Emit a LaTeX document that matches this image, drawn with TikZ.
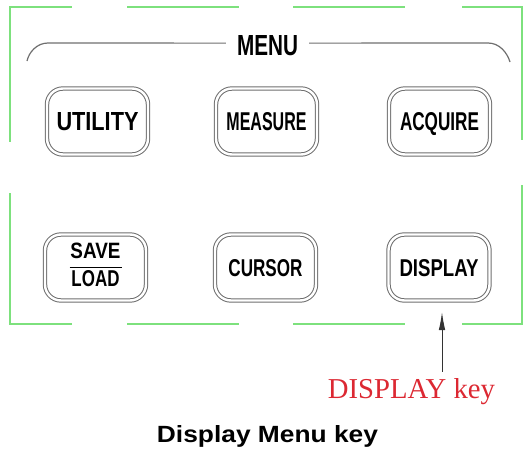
\documentclass[tikz,border=0pt]{standalone}
\usepackage{fontspec}
\setmainfont{Liberation Sans}
\newfontfamily\serifred{Liberation Serif}
\usetikzlibrary{arrows.meta}
\definecolor{framegreen}{RGB}{125,225,125}
\definecolor{keyred}{RGB}{220,40,50}
\definecolor{btngray}{RGB}{110,110,110}
\begin{document}
\begin{tikzpicture}[x=1pt,y=-1pt,
  btn/.style={draw=btngray, line width=1pt, double=white, double distance=2.4pt,
    rounded corners=16pt, minimum width=101pt, minimum height=66pt, inner sep=0pt,
    font=\bfseries},
  onel/.style={text height=17pt, text depth=0pt},
  greenframe/.style={draw=framegreen, line width=1.2pt},
  arcline/.style={draw=btngray, line width=1.2pt},
  keyarrow/.style={-{Latex[length=18pt,width=6.5pt]}, draw=black!80, line width=1pt},
]
\useasboundingbox (0,0) rectangle (525,455);

% green frame (dashed look)
\draw[greenframe] (72,7) -- (10,7) -- (10,142);
\draw[greenframe] (10,193) -- (10,324) -- (72,324);
\draw[greenframe] (127,7) -- (239,7) (293,7) -- (405,7);
\draw[greenframe] (127,324) -- (239,324) (293,324) -- (405,324);
\draw[greenframe] (462,7) -- (522,7) -- (522,140);
\draw[greenframe] (522,185) -- (522,324) -- (462,324);

% MENU heading
\node[anchor=base, inner sep=0pt, inner xsep=11pt, font=\bfseries] (menu) at (267.5,55)
  {\resizebox{61pt}{20pt}{MENU}};
\draw[arcline] (27,61) .. controls (29,52) and (37,43) .. (48,43) -- ([yshift=2pt]menu.west);
\draw[arcline] ([yshift=2pt]menu.east) -- (488,43) .. controls (499,43) and (507,52) .. (510,62);

% buttons
\node[btn,onel] (utility) at (97.5,121.5) {\resizebox{82pt}{18pt}{UTILITY}};
\node[btn,onel] (measure) at (266.5,121.5) {\resizebox{80pt}{18pt}{MEASURE}};
\node[btn,onel] (acquire) at (439.5,121.5) {\resizebox{79pt}{18pt}{ACQUIRE}};
\node[btn] (saveload) at (95.5,267.5) {\vbox{%
    \hbox to 52pt{\hss\resizebox{50pt}{15.5pt}{SAVE}\hss}%
    \kern8.5pt\hrule height 1.5pt\kern2.5pt
    \hbox to 52pt{\hss\resizebox{48pt}{16pt}{LOAD}\hss}%
    \kern5pt}};
\node[btn,onel] (cursor) at (265.5,267.5) {\resizebox{74pt}{17pt}{CURSOR}};
\node[btn,onel] (display) at (439,267.5) {\resizebox{79pt}{17pt}{DISPLAY}};

% key label and arrow
\node[anchor=base, inner sep=0pt, text=keyred, font=\serifred] (keylbl) at (411.5,398)
  {\resizebox{167pt}{20pt}{DISPLAY key}};
\coordinate (tip) at (442,312);
\draw[keyarrow, shorten <=6pt] (tip |- keylbl.north) -- (tip);

% caption
\node[anchor=base, inner sep=0pt, font=\bfseries] (caption) at (267.5,442)
  {\resizebox{221pt}{17pt}{Display Menu key}};
\end{tikzpicture}
\end{document}
